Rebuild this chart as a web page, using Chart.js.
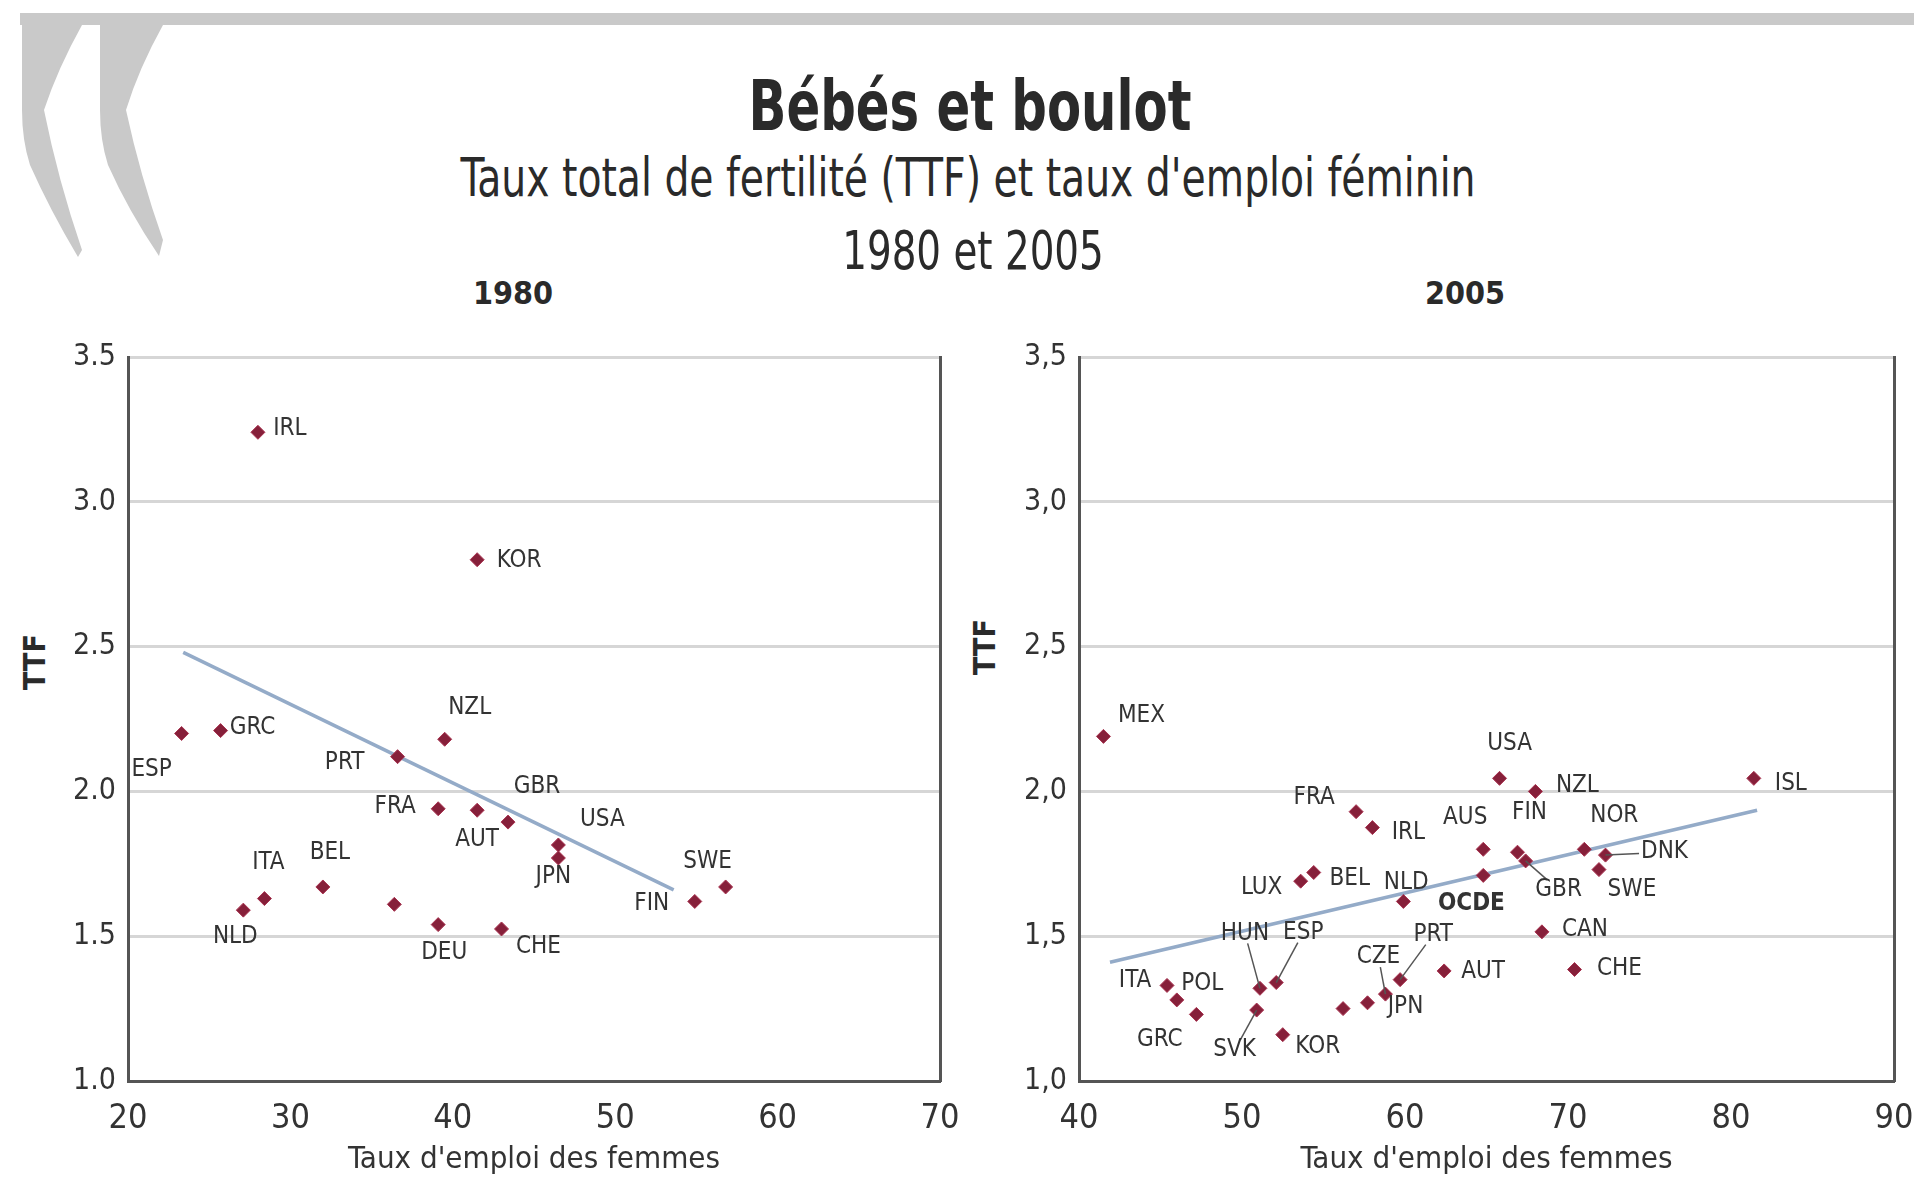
<!DOCTYPE html>
<html lang="fr">
<head>
<meta charset="utf-8">
<title>Bébés et boulot</title>
<script src="https://cdn.jsdelivr.net/npm/chart.js@4.4.1/dist/chart.umd.min.js"></script>
<style>
  body {
    margin: 0;
    width: 1914px;
    height: 1181px;
    background: #fff;
    position: relative;
    overflow: hidden;
    font-family: "Liberation Sans Narrow", "DejaVu Sans Condensed", "Arial Narrow", sans-serif;
    color: #2a2a2a;
  }
  #logo { position: absolute; left: 0; top: 0; }
  .txt {
    position: absolute;
    white-space: nowrap;
    line-height: 1;
    transform: translate(-50%, -50%);
  }
  .main { left: 970px; top: 106px; font-size: 70px; font-weight: bold; transform: translate(-50%, -50%) scale(0.79, 1); }
  .sub1 { left: 968px; top: 178px; font-size: 47px; transform: translate(-50%, -50%) scale(0.93, 1.12); }
  .sub2 { left: 973px; top: 251px; font-size: 54px; transform: translate(-50%, -50%) scale(0.8, 1); }
  .year { top: 293px; font-size: 32px; font-weight: bold; }
  .ttf { font-size: 30px; font-weight: bold; transform: translate(-50%, -50%) rotate(-90deg); }
  .panel { position: absolute; top: 300px; }
</style>
</head>
<body>

<svg id="logo" width="1914" height="270">
  <rect x="20" y="13" width="1894" height="12" fill="#c9c9c9"/>
  <path d="M22,25 L82,25 Q58,68 44,110 Q58,180 82,250 L78,257 Q50,210 30,165 Q22,140 22,110 Z" fill="#c9c9c9"/>
  <path d="M100,25 L163,25 Q139,68 126,110 Q140,175 163,240 L159,256 Q128,210 108,165 Q100,140 100,110 Z" fill="#c9c9c9"/>
</svg>

<div class="txt main">Bébés et boulot</div>
<div class="txt sub1">Taux total de fertilité (TTF) et taux d'emploi féminin</div>
<div class="txt sub2">1980 et 2005</div>
<div class="txt year" style="left:513px">1980</div>
<div class="txt year" style="left:1465px">2005</div>
<div class="txt ttf" style="left:35px; top:662px">TTF</div>
<div class="txt ttf" style="left:985px; top:647px">TTF</div>

<div class="panel" style="left:0"><canvas id="chart1980" width="960" height="881"></canvas></div>
<div class="panel" style="left:960px"><canvas id="chart2005" width="954" height="881"></canvas></div>

<script>
const FONT = '"Liberation Sans Narrow", "DejaVu Sans Condensed", "Arial Narrow", sans-serif';

// 1980
const codes1980  = ['IRL', 'KOR', 'ESP', 'GRC', 'NZL', 'PRT', 'FRA', 'AUT', 'GBR', 'USA', 'JPN', 'FIN', 'SWE', 'CHE', 'DEU', 'ITA', 'NLD', 'BEL', 'DNK'];
const emploi1980 = [28.0, 41.5, 23.3, 25.7, 39.5, 36.6, 39.1, 41.5, 43.4, 46.5, 46.5, 54.9, 56.8, 43.0, 39.1, 28.4, 27.1, 32.0, 36.4];
const ttf1980    = [3.24, 2.80, 2.20, 2.21, 2.18, 2.12, 1.94, 1.935, 1.894, 1.815, 1.77, 1.62, 1.67, 1.525, 1.54, 1.63, 1.59, 1.67, 1.61];
const trendX1980 = [23.4, 53.6];
const trendY1980 = [2.48, 1.66];

// 2005
const codes2005  = ['MEX', 'USA', 'ISL', 'NZL', 'FRA', 'IRL', 'AUS', 'FIN', 'NOR', 'DNK', 'SWE', 'GBR', 'NLD', 'OCDE', 'LUX', 'BEL', 'CAN', 'CHE', 'AUT', 'PRT', 'CZE', 'JPN', 'DEU', 'KOR', 'SVK', 'HUN', 'ESP', 'ITA', 'GRC', 'POL'];
const emploi2005 = [41.5, 65.8, 81.4, 68.0, 57.0, 58.0, 64.8, 66.9, 71.0, 72.3, 71.9, 67.4, 64.8, 59.9, 53.6, 54.4, 68.4, 70.4, 62.4, 59.7, 58.8, 57.7, 56.2, 52.5, 50.9, 51.1, 52.1, 45.4, 46.0, 47.2];
const ttf2005    = [2.19, 2.045, 2.045, 2.00, 1.93, 1.875, 1.80, 1.79, 1.80, 1.78, 1.73, 1.76, 1.71, 1.62, 1.69, 1.72, 1.515, 1.385, 1.38, 1.35, 1.30, 1.27, 1.25, 1.16, 1.245, 1.32, 1.34, 1.33, 1.28, 1.23];
const trendX2005 = [41.9, 81.6];
const trendY2005 = [1.41, 1.935];

// axes
const xTicks1980 = [20, 30, 40, 50, 60, 70];
const xTicks2005 = [40, 50, 60, 70, 80, 90];
const yTicks = [1.0, 1.5, 2.0, 2.5, 3.0, 3.5];
const yTickLabels1980 = ['1.0', '1.5', '2.0', '2.5', '3.0', '3.5'];
const yTickLabels2005 = ['1,0', '1,5', '2,0', '2,5', '3,0', '3,5'];

// where each country code sits relative to its marker (px)
const labelOffsets1980 = {
  IRL: [32, -4], KOR: [42, 1], ESP: [-30, 36], GRC: [32, -3], NZL: [25, -32],
  PRT: [-53, 6], FRA: [-43, -2], AUT: [0, 30], GBR: [29, -35], USA: [44, -25],
  JPN: [-5, 19], FIN: [-43, 2], SWE: [-18, -25], CHE: [37, 18], DEU: [6, 28],
  ITA: [4, -36], NLD: [-8, 27], BEL: [7, -34]
};
const labelOffsets2005 = {
  MEX: [38, -21], USA: [10, -35], ISL: [37, 5], NZL: [42, -6], FRA: [-42, -14],
  IRL: [36, 5], AUS: [-18, -32], FIN: [12, -39], NOR: [30, -34], DNK: [59, -3],
  SWE: [33, 20], GBR: [33, 29], NLD: [-77, 7], OCDE: [68, 2], LUX: [-39, 7],
  BEL: [36, 6], CAN: [43, -2], CHE: [45, -1], AUT: [39, 1], PRT: [33, -45],
  CZE: [-7, -37], JPN: [38, 4], KOR: [35, 12], SVK: [-22, 40], HUN: [-15, -55],
  ESP: [27, -50], ITA: [-32, -5], GRC: [-17, 40], POL: [6, -31]
};
const leaders2005 = ['DNK', 'GBR', 'PRT', 'CZE', 'SVK', 'HUN', 'ESP'];

Chart.defaults.font.family = FONT;
Chart.defaults.color = '#333';

const pointLabels = {
  id: 'pointLabels',
  afterDatasetsDraw(chart, args, opts) {
    const ctx = chart.ctx;
    const meta = chart.getDatasetMeta(0);
    ctx.save();
    ctx.textAlign = 'center';
    ctx.textBaseline = 'middle';
    meta.data.forEach((pt, i) => {
      const code = opts.codes[i];
      const off = opts.offsets[code];
      if (!off) return;
      const bold = code === 'OCDE';
      ctx.font = (bold ? 'bold ' : '') + '24px ' + FONT;
      const cx = pt.x + off[0];
      const cy = pt.y + off[1];
      if (opts.leaders.includes(code)) {
        const hw = ctx.measureText(code).width / 2 + 2;
        const hh = 10;
        const t = Math.min(off[0] ? hw / Math.abs(off[0]) : Infinity, off[1] ? hh / Math.abs(off[1]) : Infinity);
        ctx.strokeStyle = '#555';
        ctx.lineWidth = 1.5;
        ctx.beginPath();
        ctx.moveTo(pt.x, pt.y);
        ctx.lineTo(cx - off[0] * t, cy - off[1] * t);
        ctx.stroke();
      }
      ctx.fillStyle = '#333';
      ctx.fillText(code, cx, cy);
    });
    ctx.restore();
  }
};

function makeChart(id, cfg) {
  const points = cfg.x.map((v, i) => ({ x: v, y: cfg.y[i] }));
  const trend = cfg.trendX.map((v, i) => ({ x: v, y: cfg.trendY[i] }));
  return new Chart(document.getElementById(id), {
    type: 'scatter',
    data: {
      datasets: [
        {
          data: points,
          pointStyle: 'rectRot',
          pointRadius: 7,
          backgroundColor: '#86203a',
          borderColor: '#a8324f',
          borderWidth: 1
        },
        {
          type: 'line',
          data: trend,
          showLine: true,
          pointRadius: 0,
          borderColor: '#94abc8',
          borderWidth: 3.5,
          fill: false
        }
      ]
    },
    options: {
      responsive: false,
      animation: false,
      layout: { padding: { left: 0, right: 20, top: 57, bottom: 0 } },
      plugins: {
        legend: { display: false },
        tooltip: { enabled: false },
        pointLabels: { codes: cfg.codes, offsets: cfg.offsets, leaders: cfg.leaders }
      },
      scales: {
        x: {
          type: 'linear',
          min: cfg.xTicks[0],
          max: cfg.xTicks[cfg.xTicks.length - 1],
          afterBuildTicks: s => { s.ticks = cfg.xTicks.map(v => ({ value: v })); },
          afterFit: s => { s.height = 100; s.paddingLeft = 0; s.paddingRight = 0; },
          ticks: { font: { size: 34 }, color: '#333', padding: 18 },
          grid: { display: false, drawTicks: false },
          border: { display: true, color: '#555', width: 3 },
          title: {
            display: true,
            text: "Taux d'emploi des femmes",
            font: { size: 31 },
            color: '#333',
            padding: { top: 0, bottom: 2 }
          }
        },
        y: {
          min: 1,
          max: 3.5,
          afterBuildTicks: s => { s.ticks = yTicks.map(v => ({ value: v })); },
          afterFit: s => { s.width = cfg.yWidth; s.paddingTop = 0; s.paddingBottom = 0; },
          ticks: {
            font: { size: 30 },
            color: '#333',
            padding: 12,
            callback: v => cfg.yLabels[yTicks.indexOf(v)]
          },
          grid: { color: '#d6d6d6', lineWidth: 3, drawTicks: false },
          border: { display: true, color: '#555', width: 3 }
        },
        y2: {
          position: 'right',
          min: 1,
          max: 3.5,
          afterFit: s => { s.width = 0; },
          ticks: { display: false },
          grid: { display: false, drawTicks: false },
          border: { display: true, color: '#555', width: 3 }
        }
      }
    },
    plugins: [pointLabels]
  });
}

makeChart('chart1980', {
  codes: codes1980, x: emploi1980, y: ttf1980,
  trendX: trendX1980, trendY: trendY1980,
  xTicks: xTicks1980, yLabels: yTickLabels1980,
  offsets: labelOffsets1980, leaders: [], yWidth: 128
});

makeChart('chart2005', {
  codes: codes2005, x: emploi2005, y: ttf2005,
  trendX: trendX2005, trendY: trendY2005,
  xTicks: xTicks2005, yLabels: yTickLabels2005,
  offsets: labelOffsets2005, leaders: leaders2005, yWidth: 119
});
</script>
</body>
</html>
